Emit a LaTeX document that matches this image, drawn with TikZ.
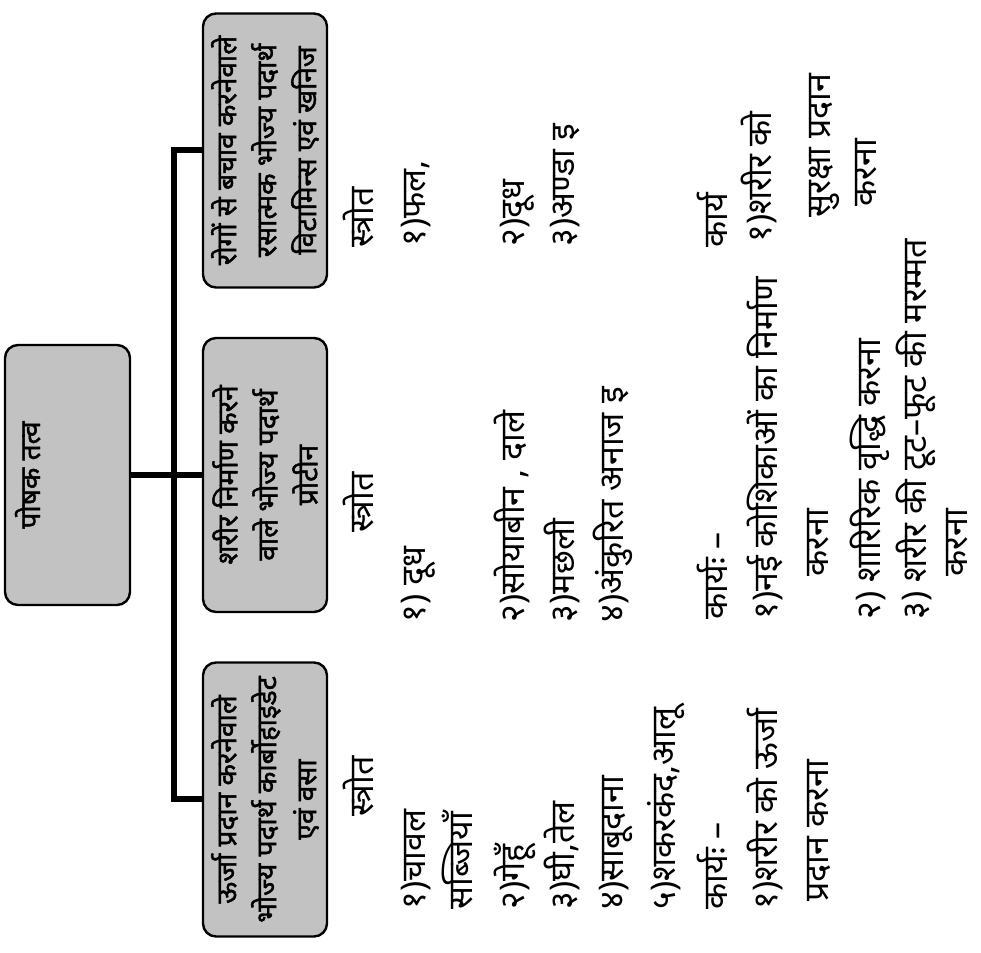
\documentclass[tikz,border=0pt]{standalone}
\usepackage{fontspec}
\newfontfamily\deva[Script=Devanagari]{Noto Sans}
\newfontfamily\devab[Script=Devanagari,FakeBold=1.6]{Noto Sans}
\usetikzlibrary{positioning}

\begin{document}
\begin{tikzpicture}[x=0.5pt,y=0.5pt,rotate=90,transform shape,
  box/.style={rectangle,rounded corners=6.5pt,draw=black,line width=1.2pt,fill=black!24,
    font=\devab\fontsize{14}{20}\selectfont,align=center,
    minimum width=137pt,minimum height=62pt,inner sep=2pt},
  rootbox/.style={box,minimum width=130pt,minimum height=0pt,
    text height=12.5pt,text depth=40pt,inner ysep=5pt},
  bus/.style={line width=3pt},
  item/.style={anchor=base west,inner sep=0pt,font=\deva\fontsize{17}{20}\selectfont}
]
\useasboundingbox (0,0) -- (953,0) -- (953,-981) -- (0,-981) -- cycle;

% boxes
\node[rootbox] (posh) at (478,-67.5) {पोषक तत्व};
\node[box] (urja) at (153.5,-265) {ऊर्जा प्रदान करनेवाले\\भोज्य पदार्थ कार्बोहाइडेट\\एवं वसा};
\node[box] (nirman) at (478,-265) {शरीर निर्माण करने\\वाले भोज्य पदार्थ\\प्रोटीन};
\node[box] (bachav) at (802.5,-265) {रोगों से बचाव करनेवाले\\रसात्मक भोज्य पदार्थ\\विटामिन्स एवं खनिज};
\draw[bus] (posh.south) -- ++(0,-43) -| (urja.north);
\draw[bus] (posh.south) -- ++(0,-43) -| (bachav.north);
\draw[bus] (posh.south) -- (nirman.north);

% first column
\node[item] (srota) at (136,-373) {स्त्रोत};
\node[item] (a1) at (43,-425) {१)चावल};
\node[item] (a1b) at (43,-472) {सब्जियाँ};
\node[item] (a2) at (43,-524) {२)गेहूँ};
\node[item] (a3) at (43,-574) {३)घी,तेल};
\node[item] (a4) at (43,-623) {४)साबूदाना};
\node[item] (a5) at (43,-675) {५)शकरकंद,आलू};
\node[item] (karyaa) at (43,-727) {कार्यः –};
\node[item] (ka1) at (43,-777) {१)शरीर को ऊर्जा};
\node[item] (ka1b) at (51,-828) {प्रदान करना};

% second column
\node[item] (srotb) at (420,-373) {स्त्रोत};
\node[item] (b1) at (330,-425) {१) दूध};
\node[item] (b2) at (330,-524) {२)सोयाबीन , दाले};
\node[item] (b3) at (330,-574) {३)मछली};
\node[item] (b4) at (330,-623) {४)अंकुरित अनाज इ};
\node[item] (karyab) at (333,-727) {कार्यः –};
\node[item] (kb1) at (333,-777) {१)नई कोशिकाओं का निर्माण};
\node[item] (kb1b) at (376,-828) {करना};
\node[item] (kb2) at (333,-880) {२) शारिरिक वृद्धि करना};
\node[item] (kb3) at (333,-926) {३) शरीर की टूट–फूट की मरम्मत};
\node[item] (kb3b) at (376,-967) {करना};

% third column
\node[item] (srotc) at (705,-373) {स्त्रोत};
\node[item] (c1) at (706,-425) {१)फल,};
\node[item] (c2) at (706,-524) {२)दूध};
\node[item] (c3) at (706,-574) {३)अण्डा इ};
\node[item] (karyac) at (705,-727) {कार्य};
\node[item] (kc1) at (710,-771) {१)शरीर को};
\node[item] (kc1b) at (735,-830) {सुरक्षा प्रदान};
\node[item] (kc1c) at (746,-876) {करना};
\end{tikzpicture}
\end{document}
